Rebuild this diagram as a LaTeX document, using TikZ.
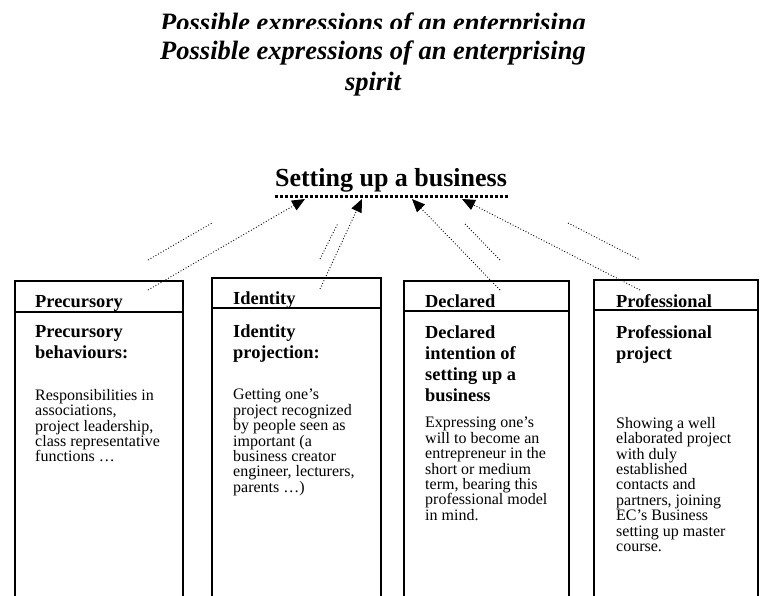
\documentclass[tikz,border=0pt]{standalone}
\usepackage{fontspec}
\setmainfont{Liberation Serif}
\usetikzlibrary{arrows.meta}

\tikzset{
  boxframe/.style={line width=1.3pt},
  titletext/.style={font=\fontsize{26.5}{30}\selectfont\bfseries\itshape, inner sep=0pt, anchor=base},
  goaltext/.style={font=\fontsize{26}{30}\selectfont\bfseries, inner sep=0pt, anchor=base},
  hdr/.style={font=\fontsize{18.4}{21}\selectfont\bfseries, inner sep=0pt, anchor=base west},
  headtext/.style={font=\fontsize{18.4}{21}\selectfont\bfseries, align=left, inner sep=0pt, anchor=north west},
  bodytext/.style={font=\fontsize{16}{15.4}\selectfont, align=left, inner sep=0pt, anchor=north west},
  conn/.style={dotted, line width=0.9pt, -{Triangle[length=13pt,width=11pt]}},
  hint/.style={dotted, line width=0.9pt},
}

\begin{document}
\begin{tikzpicture}[x=1pt, y=-1pt]
  \useasboundingbox (0,0) rectangle (763,595);

  % title, the first copy is cut off at the top
  \begin{scope}
    \clip (0,0) rectangle (763,28);
    \node[titletext] (titlecut) at (373,31) {Possible expressions of an enterprising};
  \end{scope}
  \node[titletext] (title) at (373,59) {Possible expressions of an enterprising};
  \node[titletext] (spirit) at (373,90) {spirit};

  % goal with the dotted bar below it
  \node[goaltext] (setup) at (391,186) {Setting up a business};
  \coordinate (barW) at (275,196);
  \coordinate (barE) at (508,196);
  \draw[line width=3pt, dash pattern=on 3pt off 2pt] (barW) -- (barE);

  % the four columns, open at the bottom
  \foreach \l/\r/\t/\h in {15/183/281/312, 212/381/278/308, 404/569/281/311, 594/758/280/310}{
    \draw[boxframe] (\l,600) -- (\l,\t) -- (\r,\t) -- (\r,600);
    \draw[boxframe] (\l,\h) -- (\r,\h);
  }

  % Precursory
  \node[hdr] (precH) at (35,307) {Precursory};
  \node[headtext] (precT) at (35,325.5) {Precursory\\behaviours:};
  \node[bodytext] (precB) at (35,389) {Responsibilities in\\associations,\\project leadership,\\class representative\\functions …};

  % Identity
  \node[hdr] (idenH) at (233,304) {Identity};
  \node[headtext] (idenT) at (233,324.5) {Identity\\projection:};
  \node[bodytext] (idenB) at (233,389) {Getting one’s\\project recognized\\by people seen as\\important (a\\business creator\\engineer, lecturers,\\parents …)};

  % Declared
  \node[hdr] (declH) at (425,307) {Declared};
  \node[headtext] (declT) at (425,325.5) {Declared\\intention of\\setting up a\\business};
  \node[bodytext] (declB) at (425,417) {Expressing one’s\\will to become an\\entrepreneur in the\\short or medium\\term, bearing this\\professional model\\in mind.};

  % Professional
  \node[hdr] (profH) at (616,307) {Professional};
  \node[headtext] (profT) at (616,325.5) {Professional\\project};
  \node[bodytext] (profB) at (616,417) {Showing a well\\elaborated project\\with duly\\established\\contacts and\\partners, joining\\EC’s Business\\setting up master\\course.};

  % arrows from the columns up to the bar
  \coordinate (a1) at (148,290); \coordinate (t1) at (305,199);
  \coordinate (a2) at (320,289); \coordinate (t2) at (362,199);
  \coordinate (a3) at (500,290); \coordinate (t3) at (412,199);
  \coordinate (a4) at (640,290); \coordinate (t4) at (462,199);
  \draw[conn] (a1) -- (t1);
  \draw[conn] (a2) -- (t2);
  \draw[conn] (a3) -- (t3);
  \draw[conn] (a4) -- (t4);

  % short dotted strokes beside them
  \coordinate (h1a) at (148,260); \coordinate (h1b) at (212,223);
  \coordinate (h2a) at (320,259); \coordinate (h2b) at (338,223);
  \coordinate (h3a) at (465,224); \coordinate (h3b) at (500,260);
  \coordinate (h4a) at (568,223); \coordinate (h4b) at (640,260);
  \draw[hint] (h1a) -- (h1b);
  \draw[hint] (h2a) -- (h2b);
  \draw[hint] (h3a) -- (h3b);
  \draw[hint] (h4a) -- (h4b);
\end{tikzpicture}
\end{document}
